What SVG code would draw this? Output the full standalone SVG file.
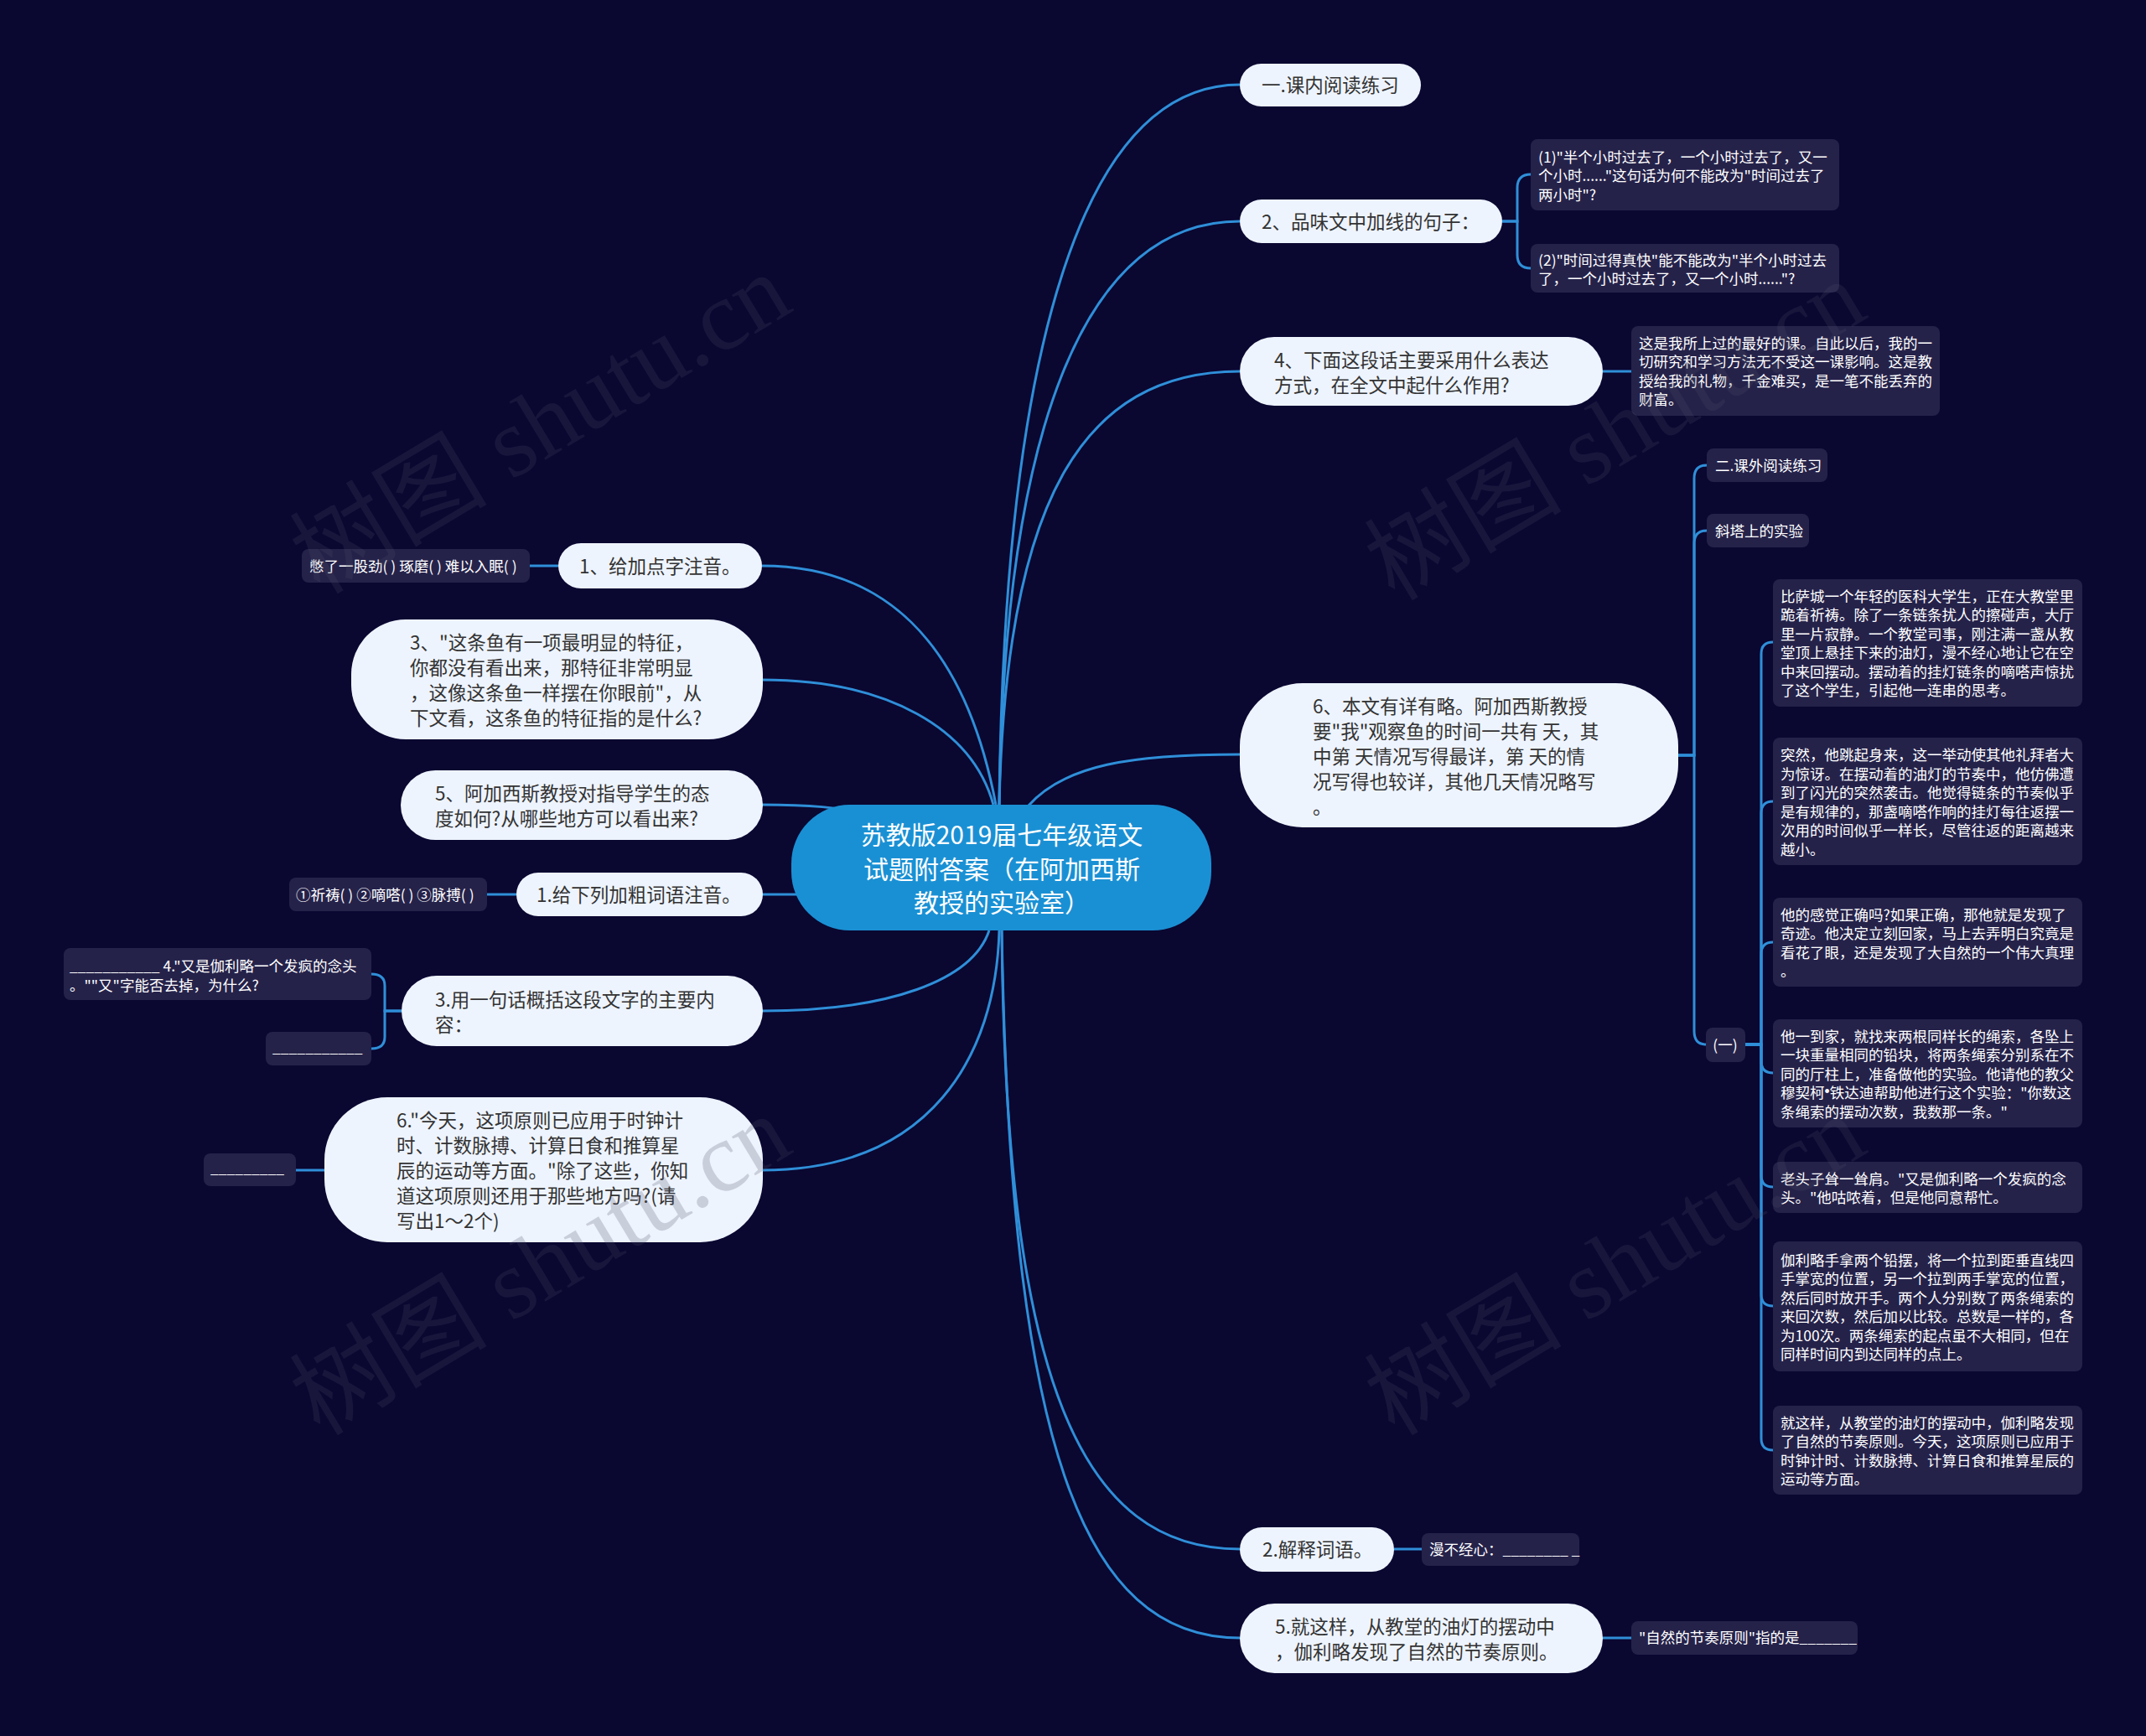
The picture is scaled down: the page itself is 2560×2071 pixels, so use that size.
<svg xmlns="http://www.w3.org/2000/svg" width="2560" height="2071" viewBox="0 0 2560 2071">
<style>
text{font-family:'Noto Sans CJK SC','Liberation Sans',sans-serif;dominant-baseline:central}
.pill{fill:#eef4fe}
.pt{fill:#333333;font-size:22.5px}
.box{fill:#25224a}
.bt{fill:#ffffff;font-size:17.5px}
.lat{font-family:'Liberation Sans',sans-serif}
.edge{fill:none;stroke:#2f8fd8;stroke-width:3}
.wm{font-family:'Liberation Serif','Noto Sans CJK SC',serif;font-size:118px;fill:#4b4b62;opacity:0.22}
</style>
<rect width="2560" height="2071" fill="#0a0731"/>
<g id="connectors">
<path class="edge" d="M1192,960 C1198,420 1290,101 1479,101"/>
<path class="edge" d="M1192,960 C1198,520 1290,264 1479,264"/>
<path class="edge" d="M1192,960 C1200,600 1290,443 1479,443"/>
<path class="edge" d="M1226,962 C1270,912 1350,900 1479,900"/>
<path class="edge" d="M1195,1110 C1200,1650 1290,1848 1479,1848"/>
<path class="edge" d="M1195,1110 C1205,1720 1290,1954 1479,1954"/>
<path class="edge" d="M1188,960 C1150,760 1050,675 909,675"/>
<path class="edge" d="M1185,960 C1160,870 1060,811 909,811"/>
<path class="edge" d="M909,960 C960,960 1000,962 1060,975"/>
<path class="edge" d="M909,1067 L1000,1067"/>
<path class="edge" d="M909,1206 C1060,1206 1160,1170 1180,1110"/>
<path class="edge" d="M909,1396 C1110,1396 1188,1260 1192,1110"/>
<path class="edge" d="M1792,264 H1810 V224 Q1810,208 1826,208"/>
<path class="edge" d="M1792,264 H1810 V304 Q1810,320 1826,320"/>
<path class="edge" d="M1912,443 H1946"/>
<path class="edge" d="M2002,901 H2021 V571 Q2021,555 2036,555"/>
<path class="edge" d="M2002,901 H2021 V649 Q2021,633 2036,633"/>
<path class="edge" d="M2002,901 H2021 V1230 Q2021,1246 2035,1246"/>
<path class="edge" d="M2082,1246 H2101 V780 Q2101,766 2115,766"/>
<path class="edge" d="M2082,1246 H2101 V970 Q2101,956 2115,956"/>
<path class="edge" d="M2082,1246 H2101 V1138 Q2101,1124 2115,1124"/>
<path class="edge" d="M2082,1246 H2101 V1266 Q2101,1280 2115,1280"/>
<path class="edge" d="M2082,1246 H2101 V1402 Q2101,1416 2115,1416"/>
<path class="edge" d="M2082,1246 H2101 V1544 Q2101,1558 2115,1558"/>
<path class="edge" d="M2082,1246 H2101 V1716 Q2101,1730 2115,1730"/>
<path class="edge" d="M666,675 H632"/>
<path class="edge" d="M616,1067 H581"/>
<path class="edge" d="M479,1206 H459 V1176 Q459,1162 443,1162"/>
<path class="edge" d="M479,1206 H459 V1237 Q459,1251 443,1251"/>
<path class="edge" d="M387,1396 H353"/>
<path class="edge" d="M1663,1848 H1696"/>
<path class="edge" d="M1912,1954 H1946"/>
</g>
<g id="center">
<rect x="944" y="960" width="501" height="150" rx="70" fill="#1a90d4"/>
<text x="1195" y="994" fill="#ffffff" font-size="30" text-anchor="middle">苏教版2019届七年级语文</text>
<text x="1195" y="1035" fill="#ffffff" font-size="30" text-anchor="middle">试题附答案（在阿加西斯</text>
<text x="1195" y="1075" fill="#ffffff" font-size="30" text-anchor="middle">教授的实验室）</text>
</g>
<g id="r1"><rect class="pill" x="1479" y="76" width="216" height="51" rx="25.5"/><text class="pt" x="1505" y="100">一.课内阅读练习</text></g>
<g id="r2"><rect class="pill" x="1479" y="238" width="313" height="52" rx="26"/><text class="pt" x="1505" y="263">2、品味文中加线的句子：</text></g>
<g id="r3"><rect class="pill" x="1479" y="402" width="433" height="82" rx="41"/><text class="pt" x="1520" y="428">4、下面这段话主要采用什么表达</text><text class="pt" x="1520" y="458">方式，在全文中起什么作用?</text></g>
<g id="r4"><rect class="pill" x="1479" y="815" width="523" height="172" rx="75"/>
<text class="pt" x="1566" y="841">6、本文有详有略。阿加西斯教授</text>
<text class="pt" x="1566" y="871">要"我"观察鱼的时间一共有 天，其</text>
<text class="pt" x="1566" y="901">中第 天情况写得最详，第 天的情</text>
<text class="pt" x="1566" y="931">况写得也较详，其他几天情况略写</text>
<text class="pt" x="1566" y="961">。</text></g>
<g id="r5"><rect class="pill" x="1479" y="1822" width="184" height="53" rx="26.5"/><text class="pt" x="1506" y="1847">2.解释词语。</text></g>
<g id="r6"><rect class="pill" x="1479" y="1913" width="433" height="83" rx="41.5"/><text class="pt" x="1521" y="1939">5.就这样，从教堂的油灯的摆动中</text><text class="pt" x="1521" y="1969">，伽利略发现了自然的节奏原则。</text></g>
<g id="b1"><rect class="box" x="1826" y="166" width="368" height="85" rx="8"/>
<text class="bt" x="1835" y="186">(1)"半个小时过去了，一个小时过去了，又一</text>
<text class="bt" x="1835" y="208">个小时......"这句话为何不能改为"时间过去了</text>
<text class="bt" x="1835" y="231">两小时"?</text></g>
<g id="b2"><rect class="box" x="1826" y="291" width="368" height="58" rx="8"/>
<text class="bt" x="1835" y="309">(2)"时间过得真快"能不能改为"半个小时过去</text>
<text class="bt" x="1835" y="331">了，一个小时过去了，又一个小时......"?</text></g>
<g id="b3"><rect class="box" x="1946" y="389" width="368" height="107" rx="8"/>
<text class="bt" x="1955" y="408">这是我所上过的最好的课。自此以后，我的一</text>
<text class="bt" x="1955" y="430">切研究和学习方法无不受这一课影响。这是教</text>
<text class="bt" x="1955" y="453">授给我的礼物，千金难买，是一笔不能丢弃的</text>
<text class="bt" x="1955" y="475">财富。</text></g>
<g id="b4"><rect class="box" x="2036" y="535" width="144" height="40" rx="8"/><text class="bt" x="2046" y="554">二.课外阅读练习</text></g>
<g id="b5"><rect class="box" x="2036" y="613" width="122" height="40" rx="8"/><text class="bt" x="2046" y="632">斜塔上的实验</text></g>
<g id="b6"><rect class="box" x="2035" y="1226" width="47" height="41" rx="8"/><text class="bt" x="2058" y="1245" text-anchor="middle">(一)</text></g>
<g id="b7a"><rect class="box" x="2115" y="691" width="369" height="152" rx="8"/>
<text class="bt" x="2124" y="710">比萨城一个年轻的医科大学生，正在大教堂里</text>
<text class="bt" x="2124" y="732">跪着祈祷。除了一条链条扰人的擦碰声，大厅</text>
<text class="bt" x="2124" y="755">里一片寂静。一个教堂司事，刚注满一盏从教</text>
<text class="bt" x="2124" y="777">堂顶上悬挂下来的油灯，漫不经心地让它在空</text>
<text class="bt" x="2124" y="800">中来回摆动。摆动着的挂灯链条的嘀嗒声惊扰</text>
<text class="bt" x="2124" y="822">了这个学生，引起他一连串的思考。</text></g>
<g id="b7b"><rect class="box" x="2115" y="880" width="369" height="152" rx="8"/>
<text class="bt" x="2124" y="899">突然，他跳起身来，这一举动使其他礼拜者大</text>
<text class="bt" x="2124" y="922">为惊讶。在摆动着的油灯的节奏中，他仿佛遭</text>
<text class="bt" x="2124" y="944">到了闪光的突然袭击。他觉得链条的节奏似乎</text>
<text class="bt" x="2124" y="967">是有规律的，那盏嘀嗒作响的挂灯每往返摆一</text>
<text class="bt" x="2124" y="989">次用的时间似乎一样长，尽管往返的距离越来</text>
<text class="bt" x="2124" y="1012">越小。</text></g>
<g id="b7c"><rect class="box" x="2115" y="1071" width="369" height="106" rx="8"/>
<text class="bt" x="2124" y="1090">他的感觉正确吗?如果正确，那他就是发现了</text>
<text class="bt" x="2124" y="1112">奇迹。他决定立刻回家，马上去弄明白究竟是</text>
<text class="bt" x="2124" y="1135">看花了眼，还是发现了大自然的一个伟大真理</text>
<text class="bt" x="2124" y="1157">。</text></g>
<g id="b7d"><rect class="box" x="2115" y="1216" width="369" height="129" rx="8"/>
<text class="bt" x="2124" y="1235">他一到家，就找来两根同样长的绳索，各坠上</text>
<text class="bt" x="2124" y="1257">一块重量相同的铅块，将两条绳索分别系在不</text>
<text class="bt" x="2124" y="1280">同的厅柱上，准备做他的实验。他请他的教父</text>
<text class="bt" x="2124" y="1302">穆契柯<tspan class="lat">•</tspan>铁达迪帮助他进行这个实验："你数这</text>
<text class="bt" x="2124" y="1325">条绳索的摆动次数，我数那一条。"</text></g>
<g id="b7e"><rect class="box" x="2115" y="1386" width="369" height="61" rx="8"/>
<text class="bt" x="2124" y="1405">老头子耸一耸肩。"又是伽利略一个发疯的念</text>
<text class="bt" x="2124" y="1427">头。"他咕哝着，但是他同意帮忙。</text></g>
<g id="b7f"><rect class="box" x="2115" y="1481" width="369" height="155" rx="8"/>
<text class="bt" x="2124" y="1502">伽利略手拿两个铅摆，将一个拉到距垂直线四</text>
<text class="bt" x="2124" y="1524">手掌宽的位置，另一个拉到两手掌宽的位置，</text>
<text class="bt" x="2124" y="1547">然后同时放开手。两个人分别数了两条绳索的</text>
<text class="bt" x="2124" y="1569">来回次数，然后加以比较。总数是一样的，各</text>
<text class="bt" x="2124" y="1592">为100次。两条绳索的起点虽不大相同，但在</text>
<text class="bt" x="2124" y="1614">同样时间内到达同样的点上。</text></g>
<g id="b7g"><rect class="box" x="2115" y="1677" width="369" height="106" rx="8"/>
<text class="bt" x="2124" y="1696">就这样，从教堂的油灯的摆动中，伽利略发现</text>
<text class="bt" x="2124" y="1718">了自然的节奏原则。今天，这项原则已应用于</text>
<text class="bt" x="2124" y="1741">时钟计时、计数脉搏、计算日食和推算星辰的</text>
<text class="bt" x="2124" y="1763">运动等方面。</text></g>
<g id="b8"><rect class="box" x="1696" y="1829" width="188" height="39" rx="8"/><text class="bt" x="1705" y="1847">漫不经心：________ _</text></g>
<g id="b9"><rect class="box" x="1946" y="1934" width="270" height="40" rx="8"/><text class="bt" x="1955" y="1952">"自然的节奏原则"指的是_______</text></g>
<g id="l1"><rect class="pill" x="666" y="648" width="243" height="54" rx="27"/><text class="pt" x="691" y="674">1、给加点字注音。</text></g>
<g id="l2"><rect class="pill" x="419" y="739" width="491" height="143" rx="65"/>
<text class="pt" x="489" y="765">3、"这条鱼有一项最明显的特征，</text>
<text class="pt" x="489" y="795">你都没有看出来，那特征非常明显</text>
<text class="pt" x="489" y="825">，这像这条鱼一样摆在你眼前"，从</text>
<text class="pt" x="489" y="855">下文看，这条鱼的特征指的是什么?</text></g>
<g id="l3"><rect class="pill" x="478" y="919" width="432" height="83" rx="41.5"/>
<text class="pt" x="519" y="945">5、阿加西斯教授对指导学生的态</text>
<text class="pt" x="519" y="975">度如何?从哪些地方可以看出来?</text></g>
<g id="l4"><rect class="pill" x="616" y="1041" width="294" height="52" rx="26"/><text class="pt" x="640" y="1066">1.给下列加粗词语注音。</text></g>
<g id="l5"><rect class="pill" x="479" y="1164" width="431" height="84" rx="42"/>
<text class="pt" x="519" y="1191">3.用一句话概括这段文字的主要内</text>
<text class="pt" x="519" y="1221">容：</text></g>
<g id="l6"><rect class="pill" x="387" y="1309" width="523" height="173" rx="75"/>
<text class="pt" x="473" y="1335">6."今天，这项原则已应用于时钟计</text>
<text class="pt" x="473" y="1365">时、计数脉搏、计算日食和推算星</text>
<text class="pt" x="473" y="1395">辰的运动等方面。"除了这些，你知</text>
<text class="pt" x="473" y="1425">道这项原则还用于那些地方吗?(请</text>
<text class="pt" x="473" y="1455">写出1～2个)</text></g>
<g id="lb1"><rect class="box" x="360" y="655" width="272" height="40" rx="8"/><text class="bt" x="369" y="674">憋了一股劲( ) 琢磨( ) 难以入眠( )</text></g>
<g id="lb2"><rect class="box" x="345" y="1047" width="236" height="40" rx="8"/><text class="bt" x="353" y="1066">①祈祷( ) ②嘀嗒( ) ③脉搏( )</text></g>
<g id="lb3"><rect class="box" x="76" y="1131" width="367" height="62" rx="8"/>
<text class="bt" x="83" y="1151">___________ 4."又是伽利略一个发疯的念头</text>
<text class="bt" x="83" y="1174">。""又"字能否去掉，为什么?</text></g>
<g id="lb4"><rect class="box" x="317" y="1231" width="126" height="40" rx="8"/><text class="bt" x="325" y="1248">___________</text></g>
<g id="lb5"><rect class="box" x="243" y="1376" width="110" height="39" rx="8"/><text class="bt" x="251" y="1392">_________</text></g>
<g id="watermark">
<text class="wm" x="645" y="506" text-anchor="middle" transform="rotate(-31 645 506)">树图 shutu.cn</text>
<text class="wm" x="1927" y="514" text-anchor="middle" transform="rotate(-31 1927 514)">树图 shutu.cn</text>
<text class="wm" x="645" y="1510" text-anchor="middle" transform="rotate(-31 645 1510)">树图 shutu.cn</text>
<text class="wm" x="1927" y="1510" text-anchor="middle" transform="rotate(-31 1927 1510)">树图 shutu.cn</text>
</g>
</svg>
